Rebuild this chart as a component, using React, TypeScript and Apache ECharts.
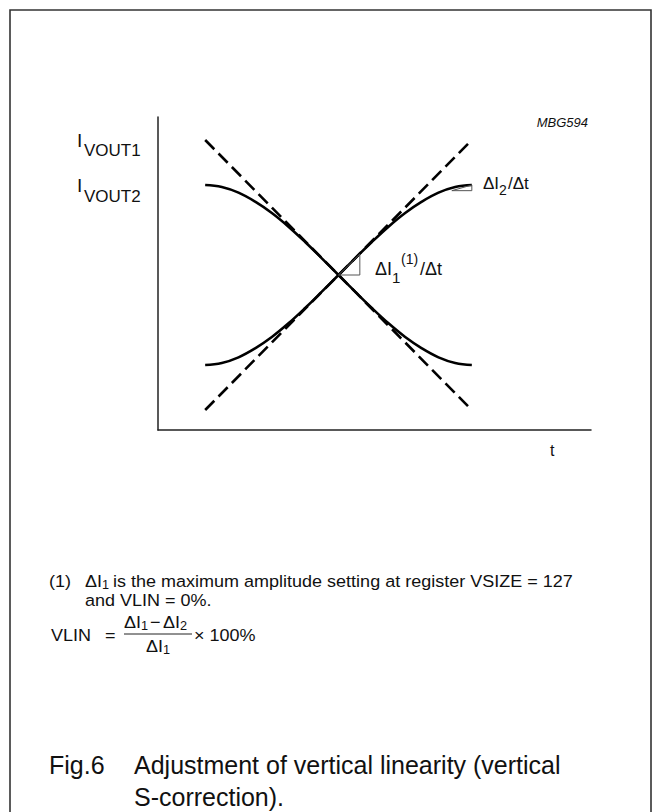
import React, { useEffect, useRef } from "react";
import * as echarts from "echarts";

// ---- data (arbitrary units, centre of the crossing = 0,0) ----
const dashedX = [-4, 4];
const dashedDown = [4.05, -4.05];
const dashedUp = [-4.05, 4.05];

const curveX = [-4, -3.5, -3, -2.5, -2, -1.5, -1, -0.5, 0, 0.5, 1, 1.5, 2, 2.5, 3, 3.5, 4];
const curveDown = [2.7, 2.64, 2.47, 2.2, 1.86, 1.45, 0.99, 0.5, 0, -0.5, -0.99, -1.45, -1.86, -2.2, -2.47, -2.64, -2.7];
const curveUp = [-2.7, -2.64, -2.47, -2.2, -1.86, -1.45, -0.99, -0.5, 0, 0.5, 0.99, 1.45, 1.86, 2.2, 2.47, 2.64, 2.7];

const tri1X = [0, 0.64, 0.64, 0];
const tri1Y = [0, 0, 0.63, 0];
const tri2X = [3.4, 4, 4, 3.4];
const tri2Y = [2.53, 2.53, 2.7, 2.53];

const axisRangeX = [-5.415, 7.575];
const axisRangeY = [-4.65, 4.74];

const FONT = '"Liberation Sans", Arial, Helvetica, sans-serif';

function pairs(xs: number[], ys: number[]) {
  return xs.map((x, i) => [x, ys[i]]);
}

function txt(text: string, x: number, y: number, size: number, extra: any = {}, scaleX = 1) {
  return {
    type: "text",
    x,
    y,
    scaleX,
    silent: true,
    style: {
      text,
      fontSize: size,
      fontFamily: FONT,
      fill: "#111",
      verticalAlign: "middle",
      align: "left",
      ...extra,
    },
  };
}

export default function App() {
  const ref = useRef<HTMLDivElement>(null);
  useEffect(() => {
    if (!ref.current) return;
    const chart = echarts.init(ref.current, null, { renderer: "svg" });
    const axisLine = { show: true, lineStyle: { color: "#222", width: 1.5 } };
    const solid = { color: "#000", width: 2.6 };
    const dashed = { color: "#000", width: 2.6, type: [13, 6] };
    const thin = { color: "#555", width: 1 };
    const lineSeries = (data: number[][], lineStyle: any, smooth: any = false) => ({
      type: "line",
      data,
      symbol: "none",
      smooth,
      lineStyle,
      silent: true,
      clip: false,
    });
    const FS = 17;
    const SX = 1.06;
    chart.setOption({
      animation: false,
      backgroundColor: "#fff",
      grid: { left: 158, top: 117, width: 433, height: 313 },
      xAxis: {
        type: "value",
        min: axisRangeX[0],
        max: axisRangeX[1],
        axisLine: { ...axisLine, onZero: false },
        axisTick: { show: false },
        axisLabel: { show: false },
        splitLine: { show: false },
      },
      yAxis: {
        type: "value",
        min: axisRangeY[0],
        max: axisRangeY[1],
        axisLine: { ...axisLine, onZero: false },
        axisTick: { show: false },
        axisLabel: { show: false },
        splitLine: { show: false },
      },
      series: [
        lineSeries(pairs(dashedX, dashedDown), dashed),
        lineSeries(pairs(dashedX, dashedUp), dashed),
        lineSeries(pairs(curveX, curveDown), solid, 0.4),
        lineSeries(pairs(curveX, curveUp), solid, 0.4),
        lineSeries(pairs(tri1X, tri1Y), thin),
        lineSeries(pairs(tri2X, tri2Y), thin),
      ],
      graphic: [
        {
          type: "polyline",
          silent: true,
          shape: { points: [[10, 812], [10, 10], [651, 10], [651, 812]] },
          style: { stroke: "#333", lineWidth: 1.6, fill: null },
        },
        // y labels
        txt("I", 77, 140, 19),
        txt("VOUT1", 84, 150, 17),
        txt("I", 77, 185, 19),
        txt("VOUT2", 84, 196, 17),
        txt("MBG594", 588, 122, 13, { align: "right", fontStyle: "italic" }),
        txt("t", 550, 450, 16),
        // slope labels
        txt("ΔI", 483, 183, 17),
        txt("2", 499, 190, 14),
        txt("/Δt", 508, 183, 17),
        txt("ΔI", 375, 269, 18),
        txt("1", 392, 277, 15),
        txt("(1)", 401, 259, 14),
        txt("/Δt", 420, 269, 18),
        // footnote
        txt("(1)", 49, 581, FS, {}, SX),
        txt("ΔI", 85, 581, FS, {}, SX),
        txt("1", 102, 585, 12, {}, SX),
        txt("is the maximum amplitude setting at register VSIZE = 127", 113, 581, FS, {}, SX),
        txt("and VLIN = 0%.", 85, 600, FS, {}, SX),
        // formula
        txt("VLIN", 51, 635, FS, {}, SX),
        txt("=", 105, 635, FS, {}, SX),
        txt("ΔI", 124, 622, FS, {}, SX),
        txt("1", 141, 626, 12, {}, SX),
        txt("−", 150, 622, FS, {}, SX),
        txt("ΔI", 163, 622, FS, {}, SX),
        txt("2", 180, 626, 12, {}, SX),
        {
          type: "line",
          silent: true,
          shape: { x1: 124, y1: 634, x2: 192, y2: 634 },
          style: { stroke: "#222", lineWidth: 1 },
        },
        txt("ΔI", 146, 646, FS, {}, SX),
        txt("1", 163, 650, 12, {}, SX),
        txt("× 100%", 194, 635, FS, {}, SX),
        // caption
        txt("Fig.6", 49, 765, 25),
        txt("Adjustment of vertical linearity (vertical", 134, 765, 25),
        txt("S-correction).", 134, 797, 25),
      ],
    });
    return () => chart.dispose();
  }, []);
  return (
    <div
      ref={ref}
      style={{ position: "absolute", left: 0, top: 0, width: 653, height: 812, background: "#fff" }}
    />
  );
}
